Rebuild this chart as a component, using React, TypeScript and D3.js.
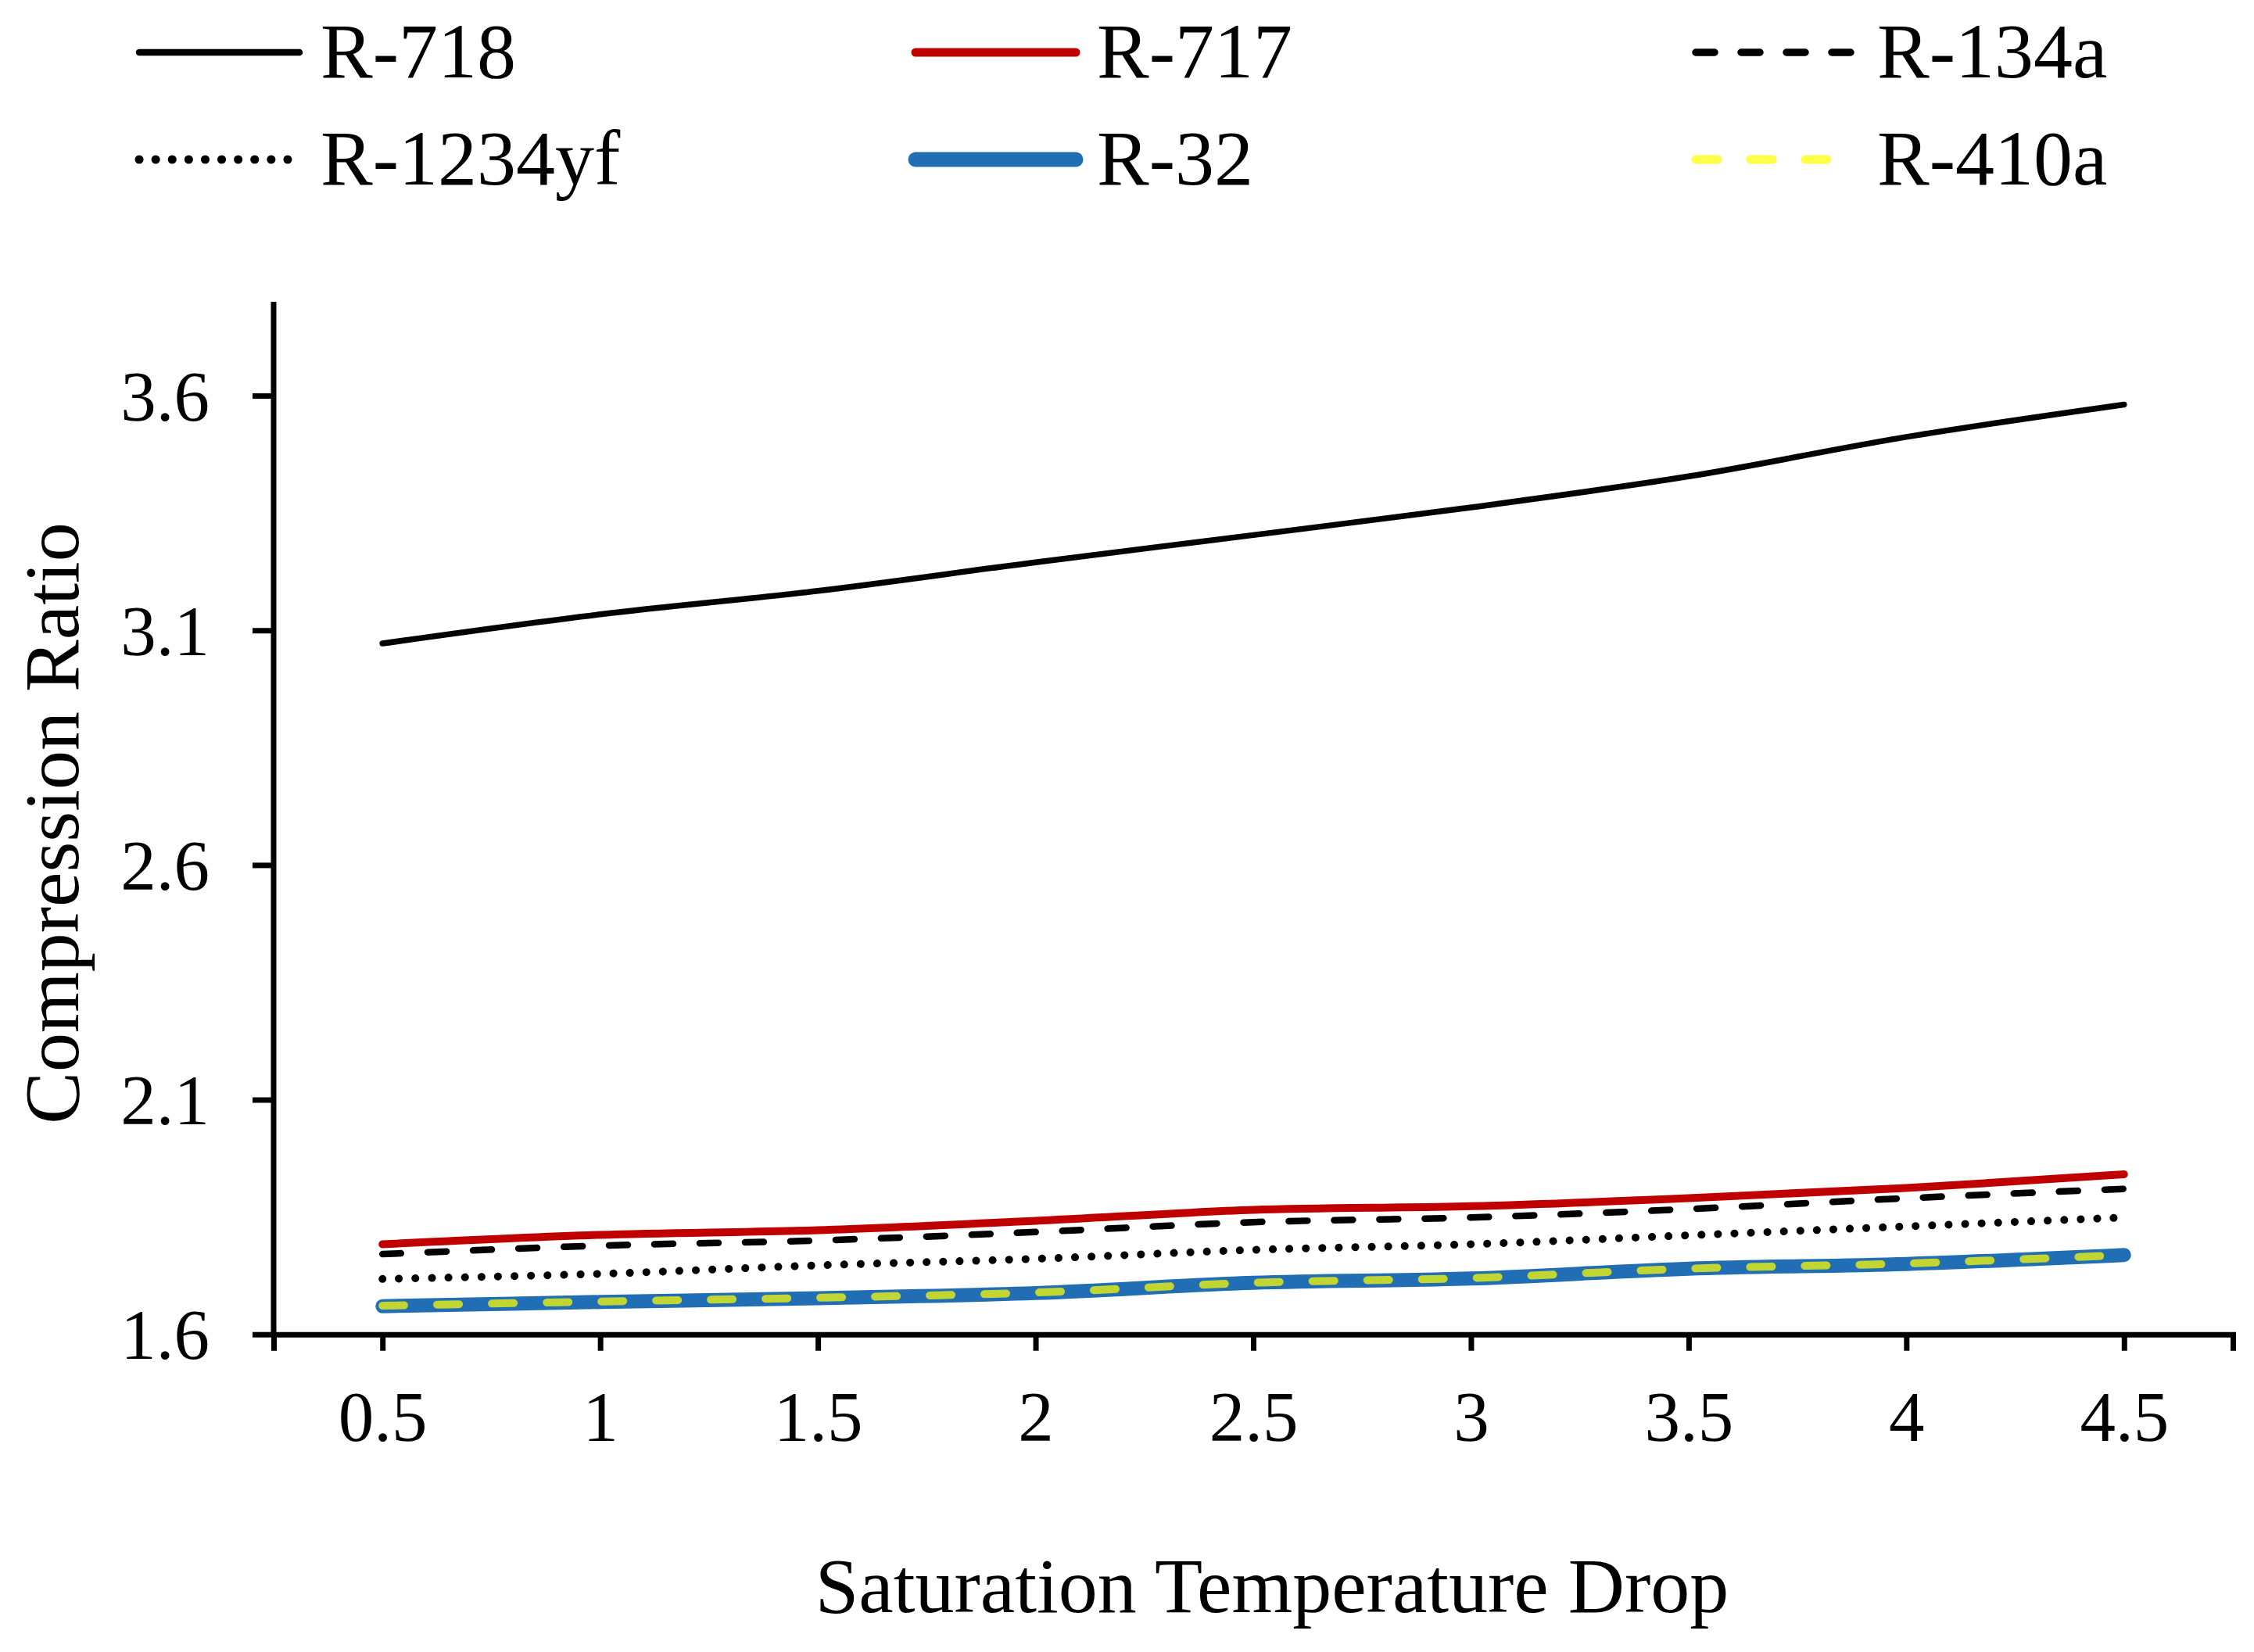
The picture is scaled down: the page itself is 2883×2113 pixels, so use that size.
import * as d3 from 'd3'
import { useEffect, useRef } from 'react'

// saturation temperature drop (x) and compression ratio per refrigerant
const tempDrop = [0.5, 1, 1.5, 2, 2.5, 3, 3.5, 4, 4.5]
const r718 = [3.072, 3.134, 3.184, 3.245, 3.303, 3.362, 3.428, 3.512, 3.581]
const r717 = [1.792, 1.812, 1.822, 1.842, 1.865, 1.873, 1.890, 1.912, 1.941]
const r134a = [1.771, 1.789, 1.800, 1.818, 1.839, 1.849, 1.867, 1.890, 1.910]
const r1234yf = [1.718, 1.729, 1.747, 1.761, 1.780, 1.792, 1.811, 1.830, 1.849]
const r32 = [1.660, 1.669, 1.677, 1.688, 1.710, 1.719, 1.740, 1.750, 1.769]
const r410a = [1.661, 1.670, 1.678, 1.689, 1.710, 1.720, 1.740, 1.751, 1.769]

const yTicks = [1.6, 2.1, 2.6, 3.1, 3.6]
const xTickLabels = ['0.5', '1', '1.5', '2', '2.5', '3', '3.5', '4', '4.5']

const W = 2883
const H = 2113
const FONT = '"Liberation Serif", "Times New Roman", serif'

type Series = {
    name: string,
    values: number[],
    color: string,
    width: number,
    dash: string | null,
    opacity: number
}

const series: Series[] = [
    { name: 'R-718', values: r718, color: '#000000', width: 7.5, dash: null, opacity: 1 },
    { name: 'R-717', values: r717, color: '#C00000', width: 10, dash: null, opacity: 1 },
    { name: 'R-134a', values: r134a, color: '#000000', width: 8.5, dash: '24 34', opacity: 1 },
    { name: 'R-1234yf', values: r1234yf, color: '#000000', width: 10, dash: '0.1 21', opacity: 1 },
    { name: 'R-32', values: r32, color: '#226EB5', width: 18, dash: null, opacity: 1 },
    { name: 'R-410a', values: r410a, color: '#FFFF00', width: 10, dash: '28 42', opacity: 0.72 },
]

// legend slots: column x of line start, row y
const legendCols = [178, 1171, 2169]
const legendRows = [67, 204]

export default function App() {
    const svgRef = useRef<SVGSVGElement>(null)

    useEffect(() => {
        const svg = d3.select(svgRef.current)
        svg.selectAll('*').remove()

        const left = 350
        const right = 2856
        const top = 386
        const bottom = 1706.7

        const x = d3.scaleLinear().domain([0.25, 4.75]).range([left, right])
        const y = d3.scaleLinear().domain([1.6, 3.8]).range([bottom, top])

        // y axis
        const yAxis = d3.axisLeft(y)
            .tickValues(yTicks)
            .tickSize(27)
            .tickSizeOuter(0)
            .tickPadding(55)
            .tickFormat(d3.format('.1f') as any)

        const gy = svg.append('g')
            .attr('transform', `translate(${left},0)`)
            .call(yAxis)
        gy.selectAll('text')
            .attr('dy', '0.34em')
            .style('font-size', '91px')
        gy.select('.domain').attr('d', `M0,${top}V${bottom + 3.5}`)

        // x axis
        const xAxis = d3.axisBottom(x)
            .tickValues(tempDrop)
            .tickSize(21)
            .tickSizeOuter(21)
            .tickFormat((_d, i) => xTickLabels[i])

        const gx = svg.append('g')
            .attr('transform', `translate(0,${bottom})`)
            .call(xAxis)
        gx.selectAll('text')
            .attr('y', 136)
            .attr('dy', null)
            .style('font-size', '91px')

        svg.selectAll('.domain, .tick line')
            .attr('stroke', '#000')
            .attr('stroke-width', 7)
        svg.selectAll('.tick text')
            .attr('fill', '#000')
            .style('font-family', FONT)

        // lines
        const makeLine = d3.line<number>()
            .x((_d, i) => x(tempDrop[i]))
            .y(d => y(d))
            .curve(d3.curveCardinal.tension(0))

        series.forEach(s => {
            svg.append('path')
                .datum(s.values)
                .attr('d', makeLine)
                .attr('fill', 'none')
                .attr('stroke', s.color)
                .attr('stroke-width', s.width)
                .attr('stroke-linecap', 'round')
                .attr('stroke-linejoin', 'round')
                .attr('stroke-dasharray', s.dash)
                .attr('stroke-opacity', s.opacity)
        })

        // legend
        series.forEach((s, i) => {
            const lx = legendCols[i % 3]
            const ly = legendRows[Math.floor(i / 3)]
            svg.append('line')
                .attr('x1', lx)
                .attr('x2', lx + 205)
                .attr('y1', ly)
                .attr('y2', ly)
                .attr('stroke', s.color)
                .attr('stroke-width', s.width + 1)
                .attr('stroke-linecap', 'round')
                .attr('stroke-dasharray', s.dash)
                .attr('stroke-opacity', s.opacity)
            svg.append('text')
                .attr('x', lx + 232)
                .attr('y', ly + 32)
                .style('font-family', FONT)
                .style('font-size', '100px')
                .attr('fill', '#000')
                .text(s.name)
        })

        // axis titles
        svg.append('text')
            .attr('x', 1627)
            .attr('y', 2062)
            .attr('text-anchor', 'middle')
            .style('font-family', FONT)
            .style('font-size', '100px')
            .text('Saturation Temperature Drop')

        svg.append('text')
            .attr('transform', 'translate(100,1053) rotate(-90)')
            .attr('text-anchor', 'middle')
            .style('font-family', FONT)
            .style('font-size', '100px')
            .text('Compression Ratio')
    }, [])

    return (
        <svg
            ref={svgRef}
            width={W}
            height={H}
            style={{ position: 'absolute', left: 0, top: 0, background: '#fff' }}
        />
    )
}
